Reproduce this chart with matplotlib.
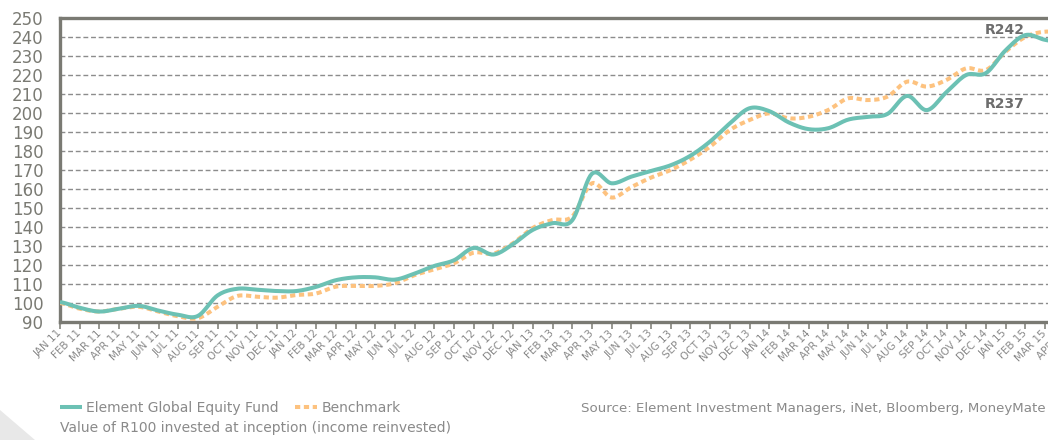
import numpy as np
import matplotlib.pyplot as plt
from matplotlib.patches import Polygon

# month labels, JAN 11 .. APR 15
months = ['JAN', 'FEB', 'MAR', 'APR', 'MAY', 'JUN', 'JUL', 'AUG', 'SEP', 'OCT', 'NOV', 'DEC']
years = ['11', '12', '13', '14', '15']
labels = [f"{m} {y}" for y in years for m in months][:52]

# value of R100 invested at inception
fund = [100.5, 97.5, 95.5, 97, 98.5, 96, 93.8, 93.2, 104, 107.5,
        107, 106.3, 106.3, 108.5, 112, 113.5, 113.5, 112.3, 115.5, 119.5,
        122.5, 129, 125.5, 131, 138.5, 142, 143.5, 168, 163, 166.5,
        169.5, 172.5, 177.5, 185, 194.5, 202.5, 201, 195, 191.5, 192,
        196.5, 198, 199.5, 209, 201.5, 211, 220, 221, 233, 241,
        238.5, 237]
bench = [100, 97, 95.5, 97, 98, 95.5, 93, 92, 98, 103.7,
         103.3, 102.8, 104.2, 105, 108.6, 109, 109, 110.4, 114.7, 117.7,
         120.9, 126.5, 126, 131.5, 139.5, 143.7, 145.5, 163, 155.5, 161,
         166, 170, 175.5, 182.3, 191, 196.3, 199.8, 197.2, 198, 201.6,
         207.7, 206.8, 208.6, 216.5, 213.9, 217.4, 223.5, 222.6, 232.3, 240,
         242.8, 242]

TEAL = '#6cc1b4'
ORANGE = '#fdc27f'
GREY = '#7a7a73'
TXT = '#8a8a8a'


# Catmull-Rom through the monthly points (Excel style smoothed line)
def smooth(y, steps=12):
    y = np.asarray(y, float)
    p = np.concatenate([[y[0]], y, [y[-1]]])
    xs, ys = [], []
    t = np.linspace(0, 1, steps, endpoint=False)
    for i in range(len(y) - 1):
        p0, p1, p2, p3 = p[i], p[i + 1], p[i + 2], p[i + 3]
        ys.append(0.5 * (2 * p1 + (-p0 + p2) * t
                         + (2 * p0 - 5 * p1 + 4 * p2 - p3) * t ** 2
                         + (-p0 + 3 * p1 - 3 * p2 + p3) * t ** 3))
        xs.append(i + t)
    xs.append([len(y) - 1])
    ys.append([y[-1]])
    return np.concatenate(xs), np.concatenate(ys)


fig = plt.figure(figsize=(10.48, 4.4), dpi=100)
ax = fig.add_axes([60 / 1048, 118 / 440, 52 * 19.7 / 1048, 304 / 440])

xb, yb = smooth(bench)
xf, yf = smooth(fund)
lb, = ax.plot(xb, yb, color=ORANGE, lw=2.9, ls=(0, (1.3, 0.9)),
              dash_capstyle='butt', label='Benchmark', zorder=3)
lf, = ax.plot(xf, yf, color=TEAL, lw=2.9, solid_capstyle='butt',
              label='Element Global Equity Fund', zorder=4)

ax.set_xlim(0, 52)
ax.set_ylim(90, 250)
ax.set_yticks(range(90, 251, 10))
ax.set_xticks(range(len(labels)))
ax.set_xticklabels(labels, rotation=45, ha='right', va='center',
                   rotation_mode='anchor', fontsize=7.5, color=TXT)
ax.tick_params(axis='y', length=0, pad=12, labelsize=12, labelcolor=GREY)
ax.tick_params(axis='x', length=5, width=1.1, color=GREY, pad=2)
ax.grid(axis='y', color='#8c8c8c', lw=1.0, ls=(0, (3.5, 2)))
ax.set_axisbelow(True)
for s in ax.spines.values():
    s.set_color(GREY)
    s.set_linewidth(2.4)

ax.annotate(f"R{bench[-1]:.0f}", xy=(len(bench) - 1, bench[-1]),
            xytext=(-60, 3), textcoords='offset pixels', ha='center',
            va='center', fontsize=10, fontweight='bold', color='#6d6d6d')
ax.annotate(f"R{fund[-1]:.0f}", xy=(len(fund) - 1, fund[-1]),
            xytext=(-60, -61), textcoords='offset pixels', ha='center',
            va='center', fontsize=10, fontweight='bold', color='#6d6d6d')

fig.legend(handles=[lf, lb], loc='center left',
           bbox_to_anchor=(54 / 1048, 1 - 408 / 440), ncol=2, frameon=False,
           fontsize=10, labelcolor=TXT, handlelength=1.6, handletextpad=0.3,
           columnspacing=1.2, borderaxespad=0)
fig.text(60 / 1048, 1 - 428 / 440,
         'Value of R100 invested at inception (income reinvested)',
         fontsize=10, color=TXT, va='center')
fig.text(1046 / 1048, 1 - 408 / 440,
         'Source: Element Investment Managers, iNet, Bloomberg, MoneyMate',
         fontsize=9.6, color=TXT, va='center', ha='right')

# grey corner shape
fig.patches.append(Polygon([(0, 0), (0, 30 / 440), (35 / 1048, 0)],
                           closed=True, transform=fig.transFigure,
                           facecolor='#e8e8e8', edgecolor='none'))

fig.savefig('out.png', dpi=100)
